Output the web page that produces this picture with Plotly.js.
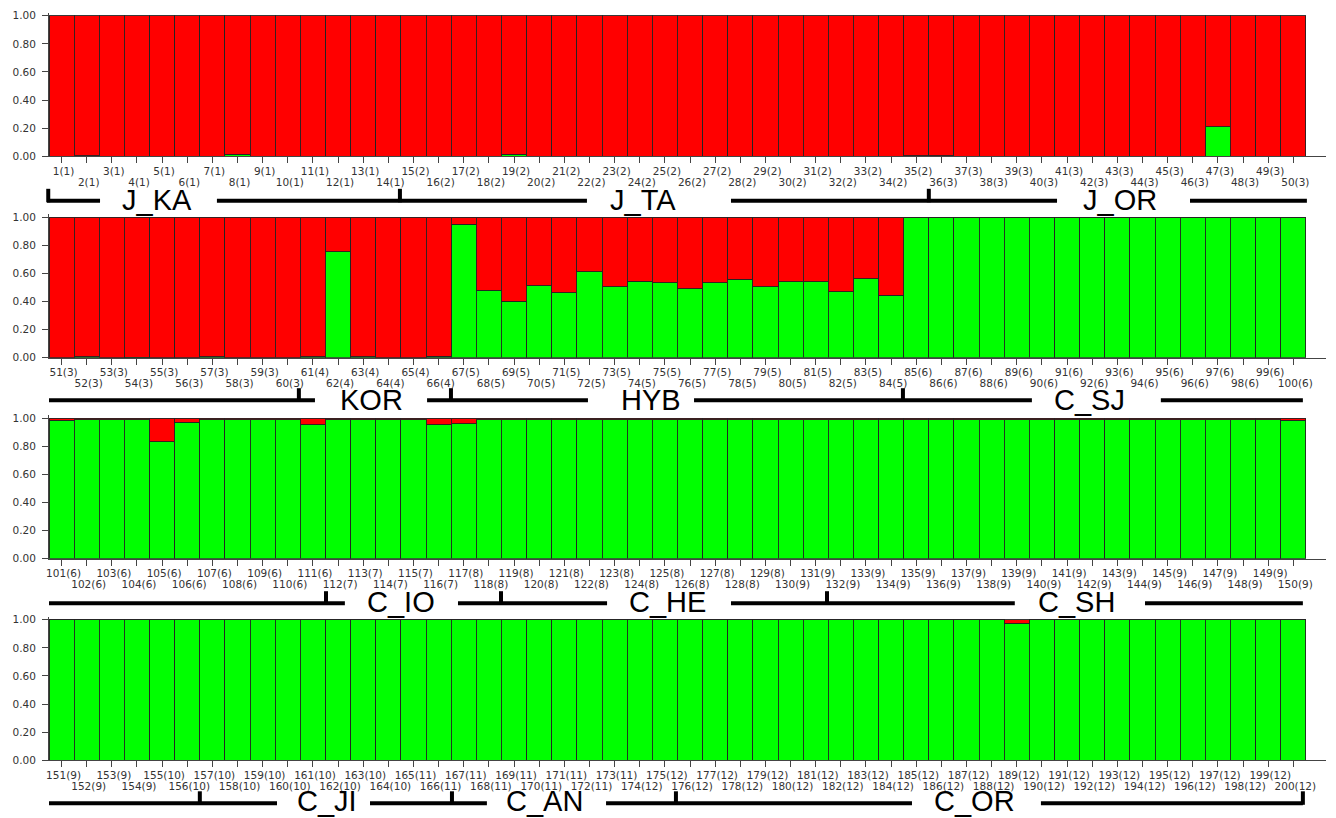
<!DOCTYPE html>
<html><head><meta charset="utf-8">
<script src="https://cdn.plot.ly/plotly-3.0.1.min.js"></script>
<style>html,body{margin:0;padding:0;background:#fff}#chart{width:1336px;height:818px}</style>
</head><body><div id="chart"></div>
<script>
// ---------------- DATA ----------------
// number of individuals in each of the 12 sampled populations (labels are "individual(population)")
const popSizes = [14, 21, 25, 6, 18, 27, 5, 13, 25, 10, 9, 27];
// membership in cluster 2 (green) for individuals 1-50, 51-100, 101-150, 151-200
const greenRow1 = [0, 0.005, 0, 0, 0, 0, 0, 0.015, 0, 0,
                   0, 0, 0, 0, 0, 0, 0, 0, 0.015, 0,
                   0, 0, 0, 0, 0, 0, 0, 0, 0, 0,
                   0, 0, 0, 0, 0.004, 0.004, 0, 0, 0, 0,
                   0, 0, 0, 0, 0, 0, 0.21, 0, 0, 0];
const greenRow2 = [0, 0.005, 0, 0.003, 0, 0, 0.005, 0, 0, 0,
                   0.005, 0.755, 0.005, 0, 0, 0.012, 0.948, 0.481, 0.403, 0.512,
                   0.462, 0.611, 0.505, 0.545, 0.533, 0.49, 0.533, 0.559, 0.505, 0.54,
                   0.54, 0.469, 0.561, 0.443, 1, 1, 1, 1, 1, 1,
                   1, 1, 1, 1, 1, 1, 1, 1, 1, 1];
const greenRow3 = [0.984, 0.99, 0.99, 0.99, 0.83, 0.972, 0.99, 0.99, 0.99, 0.99,
                   0.953, 0.99, 0.99, 0.99, 0.99, 0.953, 0.96, 0.99, 0.99, 0.99,
                   0.99, 0.99, 0.99, 0.99, 0.99, 0.99, 0.99, 0.99, 0.99, 0.99,
                   0.99, 0.99, 0.99, 0.99, 0.99, 0.99, 0.99, 0.99, 0.99, 0.99,
                   0.99, 0.99, 0.99, 0.99, 0.99, 0.99, 0.99, 0.99, 0.99, 0.985];
const greenRow4 = [1, 1, 1, 1, 1, 1, 1, 1, 1, 1,
                   1, 1, 1, 1, 1, 1, 1, 1, 1, 1,
                   1, 1, 1, 1, 1, 1, 1, 1, 1, 1,
                   1, 1, 1, 1, 1, 1, 1, 1, 0.975, 1,
                   1, 1, 1, 1, 1, 1, 1, 1, 1, 1];
const yTickVals = [0, 0.2, 0.4, 0.6, 0.8, 1.0];
const groupNames = [["J_KA", "J_TA", "J_OR"], ["KOR", "HYB", "C_SJ"],
                    ["C_IO", "C_HE", "C_SH"], ["C_JI", "C_AN", "C_OR"]];

// ---------------- LAYOUT GEOMETRY (not data) ----------------
const W = 1336, H = 818;
const rowBottomPx = [156.3, 357.7, 558.7, 760.3];
const unitPx = 140.6;
const yMax = 1.02;
const xLeftPx = 49, xRightPx = 1326;
const xRange = [0.5, 51.3];
// bracket decoration per row, in x-axis units: line segments, upward ticks, label centres
const brackets = [
  {segs: [[0.42, 2.53], [7.18, 21.9], [27.63, 40.6], [45.89, 50.54]], ticks: [0.47, 14.46, 35.5], labels: [4.8, 24.13, 43.1], off: 44.5, toff: -1},
  {segs: [[0.5, 11.08], [15.54, 21.94], [26.16, 39.6], [44.73, 50.38]], ticks: [10.44, 16.49, 34.47], labels: [13.31, 24.43, 41.91], off: 42.5, toff: -0.5},
  {segs: [[0.5, 12.27], [16.77, 22.7], [27.63, 38.92], [44.1, 50.38]], ticks: [11.52, 18.48, 31.45], labels: [14.5, 25.12, 41.39], off: 44.5, toff: -1},
  {segs: [[0.5, 9.57], [13.27, 17.92], [22.66, 34.83], [39.96, 50.38]], ticks: [6.5, 16.53, 25.44, 50.38], labels: [11.56, 20.23, 37.33], off: 43, toff: -2}
];

// ---------------- BUILD ----------------
const tickLabels = [];
let idx = 1;
popSizes.forEach((n, p) => { for (let k = 0; k < n; k++) { tickLabels.push(idx + "(" + (p + 1) + ")"); idx++; } });

const greenRows = [greenRow1, greenRow2, greenRow3, greenRow4];
const traces = [];
const layout = {
  width: W, height: H, margin: {l: 0, r: 0, t: 0, b: 0},
  paper_bgcolor: "#fff", plot_bgcolor: "#fff",
  barmode: "stack", bargap: 0, showlegend: false,
  shapes: [], annotations: []
};
const xd0 = xLeftPx / W, xd1 = xRightPx / W;
const toPaperX = xu => xd0 + (xu - xRange[0]) / (xRange[1] - xRange[0]) * (xd1 - xd0);
const toPaperY = px => 1 - px / H;
const lineCol = "rgba(35,35,35,0.9)";
const tickFont = {family: "DejaVu Sans", size: 10.5, color: "#333"};

greenRows.forEach((g, r) => {
  const sfx = r === 0 ? "" : String(r + 1);
  const sfx2 = String(r + 5);
  const pos = g.map((_, i) => i + 1);
  const red = g.map(v => 1 - v);
  traces.push({type: "bar", x: pos, y: g, width: 1, xaxis: "x" + sfx, yaxis: "y" + sfx,
    marker: {color: "#00ff00", line: {color: lineCol, width: 1}}, hoverinfo: "skip"});
  traces.push({type: "bar", x: pos, y: red, width: 1, xaxis: "x" + sfx, yaxis: "y" + sfx,
    marker: {color: "#ff0000", line: {color: lineCol, width: 1}}, hoverinfo: "skip"});
  // empty trace so the staggered (even) label axis exists
  traces.push({type: "scatter", mode: "markers", x: [], y: [], xaxis: "x" + sfx2, yaxis: "y" + sfx, hoverinfo: "skip"});
  const labs = tickLabels.slice(r * 50, r * 50 + 50);
  const oddPos = pos.filter((_, i) => i % 2 === 0), oddLab = labs.filter((_, i) => i % 2 === 0);
  const evenPos = pos.filter((_, i) => i % 2 === 1), evenLab = labs.filter((_, i) => i % 2 === 1);
  const bot = rowBottomPx[r];
  const common = {
    domain: [xd0, xd1], range: xRange, fixedrange: true,
    showgrid: false, zeroline: false, tickangle: 0,
    ticks: "outside", ticklen: 6, tickcolor: "#444", tickwidth: 1,
    tickmode: "array", tickfont: tickFont, ticklabelshift: 2
  };
  layout["xaxis" + sfx] = Object.assign({}, common, {
    anchor: "y" + sfx, showline: true, linecolor: "#444", linewidth: 1,
    tickvals: oddPos, ticktext: oddLab, ticklabelstandoff: -1
  });
  layout["xaxis" + sfx2] = Object.assign({}, common, {
    anchor: "y" + sfx, overlaying: "x" + sfx, side: "bottom", showline: false,
    tickvals: evenPos, ticktext: evenLab, ticklabelstandoff: 10
  });
  layout["yaxis" + sfx] = {
    domain: [toPaperY(bot), toPaperY(bot - yMax * unitPx)], range: [0, yMax], anchor: "x" + sfx,
    fixedrange: true, showgrid: false, zeroline: false, showline: true, linecolor: "#444", linewidth: 1,
    ticks: "outside", ticklen: 6, tickcolor: "#444", tickwidth: 1, ticklabelstandoff: 4,
    tickmode: "array", tickvals: yTickVals, ticktext: yTickVals.map(v => v.toFixed(2)),
    tickfont: tickFont
  };
  const b = brackets[r];
  const ly = bot + b.off;
  b.segs.forEach(s => layout.shapes.push({type: "line", xref: "paper", yref: "paper",
    x0: toPaperX(s[0]), x1: toPaperX(s[1]), y0: toPaperY(ly), y1: toPaperY(ly), line: {color: "#000", width: 4}}));
  b.ticks.forEach(t => layout.shapes.push({type: "line", xref: "paper", yref: "paper",
    x0: toPaperX(t), x1: toPaperX(t), y0: toPaperY(ly + 1.5), y1: toPaperY(ly - 12), line: {color: "#000", width: 4}}));
  b.labels.forEach((c, i) => layout.annotations.push({xref: "paper", yref: "paper", x: toPaperX(c), y: toPaperY(ly + b.toff),
    xanchor: "center", yanchor: "middle", showarrow: false, text: groupNames[r][i],
    font: {family: "Liberation Sans, Arial", size: 29, color: "#000"}}));
});

Plotly.newPlot("chart", traces, layout, {displayModeBar: false, staticPlot: true});
</script></body></html>
